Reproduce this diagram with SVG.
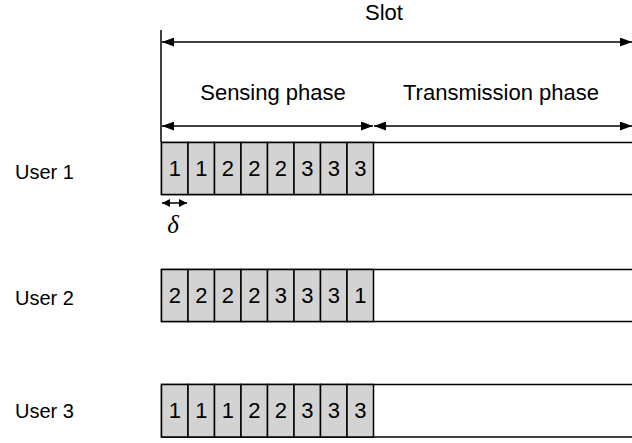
<svg xmlns="http://www.w3.org/2000/svg" width="632" height="443" viewBox="0 0 632 443">
<defs>
<marker id="ah" viewBox="0 0 12 9" refX="12" refY="4.5" markerWidth="12" markerHeight="9" markerUnits="userSpaceOnUse" orient="auto-start-reverse"><path d="M0,0 L12,4.5 L0,9 Z" fill="#000"/></marker>
<marker id="ahs" viewBox="0 0 8 8" refX="8" refY="4" markerWidth="8" markerHeight="8" markerUnits="userSpaceOnUse" orient="auto-start-reverse"><path d="M0,0 L8,4 L0,8 Z" fill="#000"/></marker>
</defs>
<style>
.lbl{font-family:"Liberation Sans",Arial,sans-serif;font-size:22px;fill:#000}
.usr{font-family:"Liberation Sans",Arial,sans-serif;font-size:20px;fill:#000}
.dig{font-family:"Liberation Sans",Arial,sans-serif;font-size:22px;fill:#000;text-anchor:middle}
.cell{fill:#d3d3d3;stroke:#000;stroke-width:1.5}
.frame{fill:#fff;stroke:#000;stroke-width:1.5}
.ln{stroke:#000;stroke-width:1.5;fill:none}
</style>
<rect width="632" height="443" fill="#fff"/>
<g id="labels">
<text class="lbl" x="384" y="19.5" text-anchor="middle" font-size="20">Slot</text>
<text class="lbl" x="273" y="100" text-anchor="middle">Sensing phase</text>
<text class="lbl" x="501" y="100" text-anchor="middle">Transmission phase</text>
<text class="usr" x="15" y="179">User 1</text>
<text class="usr" x="15" y="305">User 2</text>
<text class="usr" x="15" y="418">User 3</text>
<text x="173" y="233" text-anchor="middle" font-family="'Liberation Serif','Times New Roman',serif" font-style="italic" font-size="25">δ</text>
</g>
<g id="connectors">
<line class="ln" x1="161" y1="30" x2="161" y2="142"/>
<line class="ln" x1="162" y1="42" x2="632" y2="42" marker-start="url(#ah)" marker-end="url(#ah)"/>
<line class="ln" x1="162" y1="126" x2="373" y2="126" marker-start="url(#ah)" marker-end="url(#ah)"/>
<line class="ln" x1="374" y1="126" x2="632" y2="126" marker-start="url(#ah)" marker-end="url(#ah)"/>
<line class="ln" x1="162" y1="203" x2="187" y2="203" stroke-width="2" marker-start="url(#ahs)" marker-end="url(#ahs)"/>
</g>
<g id="user1">
<rect class="frame" x="161.5" y="142.5" width="480" height="52"/>
<rect class="cell" x="161.5" y="142.5" width="26.5" height="52"/>
<rect class="cell" x="188" y="142.5" width="26.5" height="52"/>
<rect class="cell" x="214.5" y="142.5" width="26.5" height="52"/>
<rect class="cell" x="241" y="142.5" width="26.5" height="52"/>
<rect class="cell" x="267.5" y="142.5" width="26.5" height="52"/>
<rect class="cell" x="294" y="142.5" width="26.5" height="52"/>
<rect class="cell" x="320.5" y="142.5" width="26.5" height="52"/>
<rect class="cell" x="347" y="142.5" width="26.5" height="52"/>
<text class="dig" x="174.8" y="176">1</text>
<text class="dig" x="201.3" y="176">1</text>
<text class="dig" x="227.8" y="176">2</text>
<text class="dig" x="254.3" y="176">2</text>
<text class="dig" x="280.8" y="176">2</text>
<text class="dig" x="307.3" y="176">3</text>
<text class="dig" x="333.8" y="176">3</text>
<text class="dig" x="360.3" y="176">3</text>
</g>
<g id="user2">
<rect class="frame" x="161.5" y="269.5" width="480" height="52"/>
<rect class="cell" x="161.5" y="269.5" width="26.5" height="52"/>
<rect class="cell" x="188" y="269.5" width="26.5" height="52"/>
<rect class="cell" x="214.5" y="269.5" width="26.5" height="52"/>
<rect class="cell" x="241" y="269.5" width="26.5" height="52"/>
<rect class="cell" x="267.5" y="269.5" width="26.5" height="52"/>
<rect class="cell" x="294" y="269.5" width="26.5" height="52"/>
<rect class="cell" x="320.5" y="269.5" width="26.5" height="52"/>
<rect class="cell" x="347" y="269.5" width="26.5" height="52"/>
<text class="dig" x="174.8" y="303">2</text>
<text class="dig" x="201.3" y="303">2</text>
<text class="dig" x="227.8" y="303">2</text>
<text class="dig" x="254.3" y="303">2</text>
<text class="dig" x="280.8" y="303">3</text>
<text class="dig" x="307.3" y="303">3</text>
<text class="dig" x="333.8" y="303">3</text>
<text class="dig" x="360.3" y="303">1</text>
</g>
<g id="user3">
<rect class="frame" x="161.5" y="384.5" width="480" height="52.5"/>
<rect class="cell" x="161.5" y="384.5" width="26.5" height="52.5"/>
<rect class="cell" x="188" y="384.5" width="26.5" height="52.5"/>
<rect class="cell" x="214.5" y="384.5" width="26.5" height="52.5"/>
<rect class="cell" x="241" y="384.5" width="26.5" height="52.5"/>
<rect class="cell" x="267.5" y="384.5" width="26.5" height="52.5"/>
<rect class="cell" x="294" y="384.5" width="26.5" height="52.5"/>
<rect class="cell" x="320.5" y="384.5" width="26.5" height="52.5"/>
<rect class="cell" x="347" y="384.5" width="26.5" height="52.5"/>
<text class="dig" x="174.8" y="418">1</text>
<text class="dig" x="201.3" y="418">1</text>
<text class="dig" x="227.8" y="418">1</text>
<text class="dig" x="254.3" y="418">2</text>
<text class="dig" x="280.8" y="418">2</text>
<text class="dig" x="307.3" y="418">3</text>
<text class="dig" x="333.8" y="418">3</text>
<text class="dig" x="360.3" y="418">3</text>
</g>
</svg>
